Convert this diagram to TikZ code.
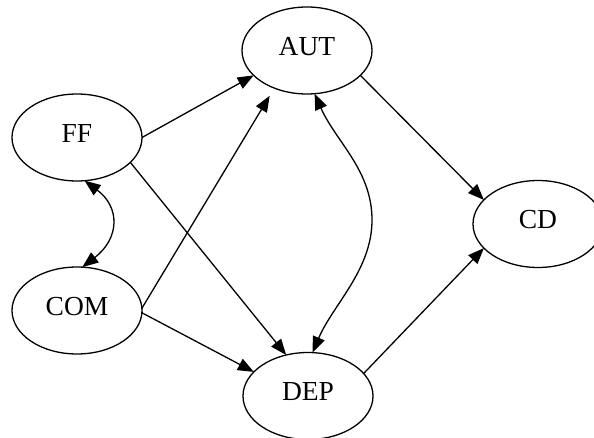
\documentclass[tikz,border=0pt]{standalone}
\usepackage{fontspec}
\setmainfont{Liberation Serif}
\usetikzlibrary{arrows.meta,shapes.geometric}
\tikzset{
  stnode/.style={ellipse,draw,line width=1.3pt,minimum width=130pt,minimum height=87pt,
    inner sep=0pt,outer sep=0pt,font=\fontsize{27.5}{33}\selectfont,text height=18.2pt,text depth=9pt},
  conn/.style={line width=1.3pt,-{Triangle[length=16pt,width=12.5pt]}},
  biconn/.style={line width=1.3pt,{Triangle[length=16pt,width=12.5pt]}-{Triangle[length=16pt,width=12.5pt]}}
}
\begin{document}
\begin{tikzpicture}[x=1pt,y=-1pt]
\useasboundingbox (0,0) rectangle (594,438);
\clip (0,0) rectangle (594,438);
\node[stnode] (aut) at (307,50.5) {AUT};
\node[stnode] (ff) at (77,137.5) {FF};
\node[stnode] (com) at (77,310.5) {COM};
\node[stnode] (cd) at (538,224) {CD};
\node[stnode] (dep) at (308,396) {DEP};
\coordinate (m1) at (372,220);
\draw[conn] (ff.0) -- (aut.205);
\draw[conn] (ff.-25) -- (dep.118);
\draw[conn,shorten >=9pt] (com.2) -- (aut.229);
\draw[conn] (com.-2) -- (dep.156);
\draw[conn] (aut.-25) -- (cd.156);
\draw[conn] (dep.22) -- (cd.204);
\draw[biconn] (aut.-80) .. controls (335.7,141.5) and (372,170) .. (m1)
  .. controls (372,270) and (332.7,305) .. (dep.84);
\draw[biconn] (ff.-80) .. controls (120,207) and (120,238) .. (com.83);
\end{tikzpicture}
\end{document}
